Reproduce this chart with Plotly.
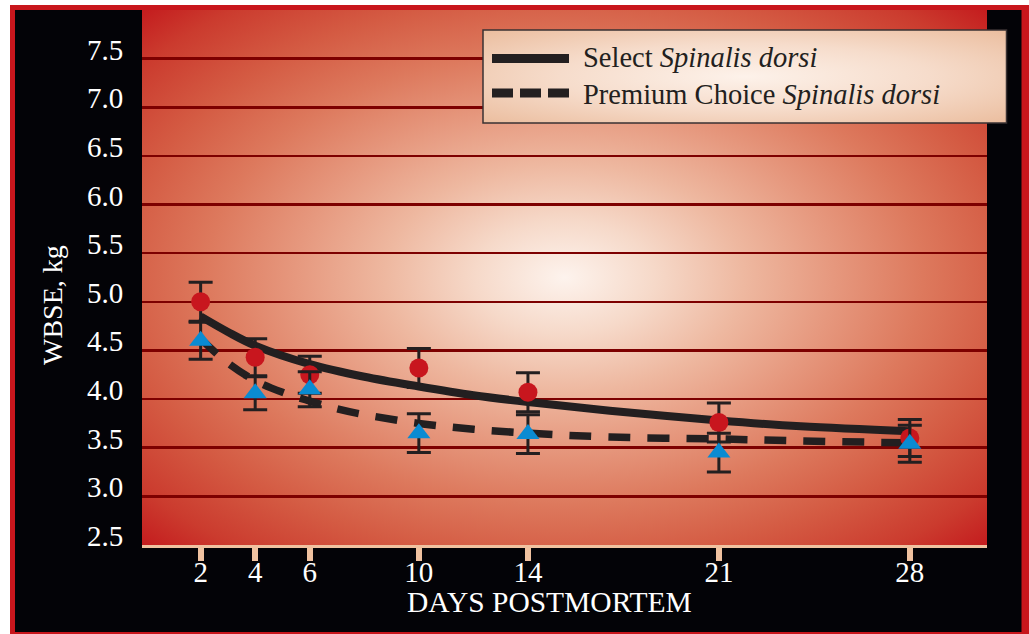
import base64
import plotly.graph_objects as go

# ---------------- data ----------------
days = [2, 4, 6, 10, 14, 21, 28]
tick_days = [2, 4, 6, 10, 14, 21, 28]
tick_labels = ["2", "4", "6", "10", "14", "21", "28"]
y_ticks = [2.5, 3.0, 3.5, 4.0, 4.5, 5.0, 5.5, 6.0, 6.5, 7.0, 7.5]
y_tick_labels = ["2.5", "3.0", "3.5", "4.0", "4.5", "5.0", "5.5", "6.0", "6.5", "7.0", "7.5"]

select_mean = [5.00, 4.43, 4.25, 4.32, 4.07, 3.76, 3.60]
select_err = [0.20, 0.19, 0.19, 0.20, 0.20, 0.20, 0.19]
premium_mean = [4.60, 4.06, 4.10, 3.65, 3.64, 3.45, 3.54]
premium_err = [0.19, 0.17, 0.18, 0.20, 0.20, 0.20, 0.19]

# fitted curves
select_fit_x = [2, 3, 4, 6, 8, 10, 12, 14, 17, 21, 24, 28]
select_fit_y = [4.85, 4.69, 4.55, 4.36, 4.23, 4.13, 4.04, 3.97, 3.88, 3.78, 3.72, 3.67]
premium_fit_x = [2, 3, 4, 5, 6, 7, 8, 10, 12, 14, 17, 21, 24, 28]
premium_fit_y = [4.62, 4.37, 4.19, 4.07, 3.98, 3.90, 3.84, 3.75, 3.69, 3.65, 3.61, 3.59, 3.57, 3.55]

legend_names = ["Select <i>Spinalis dorsi</i>", "Premium Choice <i>Spinalis dorsi</i>"]

# ---------------- style ----------------
W, H = 1029, 634
L, R, T, B = 142, 42, 10, 89
PW, PH = W - L - R, H - T - B
FONT = "Liberation Serif, Times New Roman, serif"
INK = "#231f20"
PEACH = "#f0c2a0"


def X(px):
    return (px - L) / PW


def Y(py):
    return (H - B - py) / PH


def radial_svg(w, h, stops):
    st = "".join(f"<stop offset='{o}' stop-color='{c}'/>" for o, c in stops)
    svg = (f"<svg xmlns='http://www.w3.org/2000/svg' width='{w}' height='{h}' "
           f"viewBox='0 0 {w} {h}' preserveAspectRatio='none'>"
           f"<defs><radialGradient id='g' cx='0.5' cy='0.5' r='0.7071'>{st}</radialGradient></defs>"
           f"<rect x='0' y='0' width='{w}' height='{h}' fill='url(#g)'/></svg>")
    return "data:image/svg+xml;base64," + base64.b64encode(svg.encode()).decode()


bg_src = radial_svg(PW, PH, [(0, "#fdf3ed"), (0.15, "#f6d9c9"), (0.3, "#eeb8a0"),
                             (0.45, "#e6987e"), (0.6, "#dd795d"), (0.75, "#d45b43"),
                             (0.9, "#cb3b2e"), (1.0, "#c41c1e")])
leg_src = radial_svg(524, 93, [(0, "#fdf2ea"), (0.5, "#f6dccb"), (1.0, "#ebbd9e")])

fig = go.Figure()

# fitted curves
fig.add_trace(go.Scatter(x=select_fit_x, y=select_fit_y, mode="lines",
                         line=dict(color=INK, width=8, shape="spline", smoothing=1.0),
                         hoverinfo="skip"))
fig.add_trace(go.Scatter(x=premium_fit_x, y=premium_fit_y, mode="lines",
                         line=dict(color=INK, width=7.5, shape="spline", smoothing=1.0,
                                   dash="22px,17px"),
                         hoverinfo="skip"))
# means with error bars
fig.add_trace(go.Scatter(x=days, y=select_mean, mode="markers",
                         marker=dict(symbol="circle", size=19, color="#c8161e"),
                         error_y=dict(type="data", array=select_err, visible=True,
                                      color=INK, thickness=3, width=12)))
fig.add_trace(go.Scatter(x=days, y=premium_mean, mode="markers",
                         marker=dict(symbol="triangle-up", size=20, color="#0a8bd2"),
                         error_y=dict(type="data", array=premium_err, visible=True,
                                      color=INK, thickness=3, width=12)))

shapes = []


def rect(px0, py0, px1, py1, color, layer="below"):
    shapes.append(dict(type="rect", xref="paper", yref="paper",
                       x0=X(px0), x1=X(px1), y0=Y(py1), y1=Y(py0),
                       fillcolor=color, line=dict(width=0), layer=layer))


# outer frame
rect(0, 0, W, 5, "#ffffff")
rect(0, 0, 10, H, "#ffffff")
rect(10, 5, W, 10, "#c8161c")
rect(10, 5, 15, H, "#c8161c")
rect(1021.5, 5, W, H, "#c8161c")
rect(10, 632, W, H, "#c8161c")

# legend box
lx0, ly0, lx1, ly1 = 483, 30, 1006.5, 123
shapes.append(dict(type="rect", xref="paper", yref="paper",
                   x0=X(lx0), x1=X(lx1), y0=Y(ly1), y1=Y(ly0),
                   line=dict(color="#3a3233", width=1.5), fillcolor="rgba(0,0,0,0)",
                   layer="above"))
shapes.append(dict(type="line", xref="paper", yref="paper",
                   x0=X(492), x1=X(569), y0=Y(58.5), y1=Y(58.5),
                   line=dict(color=INK, width=9), layer="above"))
shapes.append(dict(type="line", xref="paper", yref="paper",
                   x0=X(492), x1=X(569), y0=Y(93), y1=Y(93),
                   line=dict(color=INK, width=9, dash="21px,7px"), layer="above"))

images = [
    dict(source=bg_src, xref="paper", yref="paper", x=0, y=1, sizex=1, sizey=1,
         xanchor="left", yanchor="top", sizing="stretch", layer="below"),
    dict(source=leg_src, xref="paper", yref="paper", x=X(lx0), y=Y(ly0),
         sizex=X(lx1) - X(lx0), sizey=Y(ly0) - Y(ly1),
         xanchor="left", yanchor="top", sizing="stretch", layer="above"),
]

annotations = [
    dict(text=legend_names[0], xref="paper", yref="paper", x=X(581), y=Y(58),
         xanchor="left", yanchor="middle", showarrow=False,
         font=dict(family=FONT, size=28.5, color=INK)),
    dict(text=legend_names[1], xref="paper", yref="paper", x=X(581), y=Y(94),
         xanchor="left", yanchor="middle", showarrow=False,
         font=dict(family=FONT, size=28.5, color=INK)),
    dict(text="DAYS POSTMORTEM", xref="paper", yref="paper", x=X(549), y=Y(602),
         xanchor="center", yanchor="middle", showarrow=False,
         font=dict(family=FONT, size=29.5, color="#ffffff")),
    dict(text="WBSE, kg", xref="paper", yref="paper", x=X(52), y=Y(305),
         xanchor="center", yanchor="middle", showarrow=False, textangle=-90,
         font=dict(family=FONT, size=28, color="#ffffff")),
]
# y tick labels sit just above their gridlines
for v, t in zip(y_ticks, y_tick_labels):
    annotations.append(dict(text=t, xref="paper", yref="y", x=X(125), y=v,
                            xanchor="right", yanchor="middle", yshift=9,
                            showarrow=False,
                            font=dict(family=FONT, size=29, color="#ffffff")))

fig.update_layout(
    width=W, height=H,
    margin=dict(l=L, r=R, t=T, b=B, pad=0, autoexpand=False),
    paper_bgcolor="#030307",
    plot_bgcolor="rgba(0,0,0,0)",
    showlegend=False,
    hovermode=False,
    shapes=shapes,
    images=images,
    annotations=annotations,
    xaxis=dict(range=[-0.15, 30.83], tickmode="array", tickvals=tick_days,
               ticktext=tick_labels, showgrid=False, zeroline=False,
               showline=True, linecolor=PEACH, linewidth=3,
               ticks="outside", ticklen=13, tickwidth=6, tickcolor=PEACH,
               ticklabelstandoff=-14,
               tickfont=dict(family=FONT, size=29, color="#ffffff"),
               automargin=False, fixedrange=True),
    yaxis=dict(range=[2.5, 8.0], tickmode="array", tickvals=y_ticks,
               showticklabels=False, showgrid=True, gridcolor="#7d0000",
               gridwidth=2.5, zeroline=False, showline=False, ticks="",
               automargin=False, fixedrange=True),
)

fig.write_html("out.html", config={"displayModeBar": False, "staticPlot": True},
               post_script="document.body.style.margin='0px';document.body.style.overflow='hidden';")
